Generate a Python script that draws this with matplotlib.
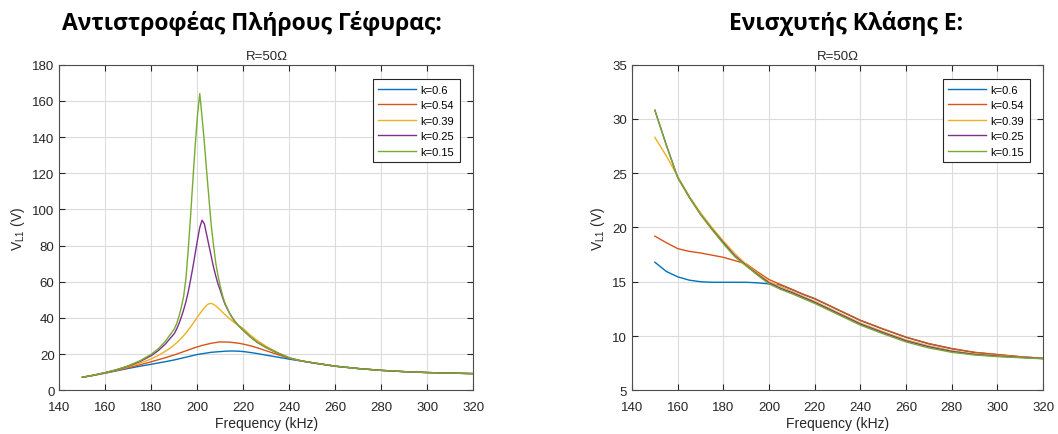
import matplotlib
matplotlib.use("Agg")
import matplotlib.pyplot as plt

# left panel: full bridge inverter
freq_inv = [150, 155, 160, 165, 170, 175, 180, 183, 186, 188,
            190, 191, 192, 193, 194, 195, 196, 197, 198, 199, 200, 201, 202, 203, 204, 205,
            206, 207, 208, 209, 210, 211, 212,
            214, 216, 218, 220, 223, 226, 230, 235, 240, 245, 250,
            260, 270, 280, 290, 300, 310, 320]
inv_k060 = [7.2, 8.3, 9.5, 10.8, 12.1, 13.3, 14.4, 15.1, 15.8, 16.3,
            16.8, 17.1, 17.4, 17.7, 18.0, 18.3, 18.6, 18.9, 19.2, 19.5, 19.8, 20.0, 20.2, 20.4, 20.6, 20.8,
            21.0, 21.1, 21.2, 21.3, 21.4, 21.5, 21.6,
            21.7, 21.7, 21.6, 21.4, 20.9, 20.3, 19.4, 18.3, 17.2, 16.2, 15.2,
            13.3, 12.0, 11.0, 10.3, 9.8, 9.5, 9.2]
inv_k054 = [7.2, 8.3, 9.6, 11.0, 12.5, 14.1, 15.8, 16.9, 18.0, 18.8,
            19.6, 20.0, 20.5, 20.9, 21.4, 21.8, 22.3, 22.7, 23.2, 23.6, 24.0, 24.4, 24.8, 25.1, 25.4, 25.7,
            26.0, 26.2, 26.4, 26.6, 26.7, 26.7, 26.7,
            26.6, 26.3, 26.0, 25.5, 24.6, 23.5, 21.8, 19.7, 17.7, 16.3, 15.2,
            13.3, 12.0, 11.0, 10.3, 9.8, 9.5, 9.2]
inv_k039 = [7.2, 8.3, 9.7, 11.2, 13.0, 15.0, 17.4, 19.3, 21.5, 23.2,
            25.2, 26.3, 27.5, 28.8, 30.2, 31.7, 33.3, 35.0, 36.8, 38.6, 40.5, 42.3, 44.0, 45.6, 47.0, 47.9,
            48.0, 47.5, 46.6, 45.5, 44.3, 43.0, 41.8,
            39.5, 37.5, 35.7, 34.0, 30.5, 27.5, 24.2, 20.8, 18.0, 16.3, 15.2,
            13.3, 12.0, 11.0, 10.3, 9.8, 9.5, 9.2]
inv_k025 = [7.2, 8.4, 9.8, 11.4, 13.4, 15.9, 19.2, 22.0, 25.5, 28.5,
            31.5, 34.0, 37.0, 40.5, 44.5, 49.0, 54.5, 61.0, 68.0, 75.5, 83.0, 90.0, 94.0, 92.0, 86.0, 80.0,
            74.0, 68.0, 63.0, 58.5, 55.0, 51.0, 47.5,
            42.5, 38.5, 35.5, 33.0, 29.5, 26.5, 23.5, 20.5, 17.8, 16.3, 15.2,
            13.3, 12.0, 11.0, 10.3, 9.8, 9.5, 9.2]
inv_k015 = [7.2, 8.4, 9.8, 11.5, 13.6, 16.3, 20.0, 23.0, 27.0, 30.5,
            34.0, 37.0, 41.0, 46.0, 52.0, 62.0, 78.0, 96.0, 116.0, 135.0, 152.0, 164.0, 151.0, 137.0, 121.0, 106.0,
            91.0, 80.0, 70.0, 63.0, 57.0, 52.0, 48.0,
            42.5, 38.5, 35.5, 33.0, 29.5, 26.5, 23.5, 20.5, 17.8, 16.3, 15.2,
            13.3, 12.0, 11.0, 10.3, 9.8, 9.5, 9.2]

# right panel: class E amplifier
freq_amp = [150, 155, 160, 165, 170, 175, 180, 185, 190, 195, 200, 205, 210, 215, 220,
            230, 240, 250, 260, 270, 280, 290, 300, 310, 320]
amp_k060 = [16.8, 15.95, 15.45, 15.15, 15.0, 14.95, 14.95, 14.95, 14.95, 14.9, 14.8, 14.7, 14.28, 13.83, 13.43,
            12.43, 11.43, 10.63, 9.88, 9.28, 8.83, 8.48, 8.28, 8.08, 7.94]
amp_k054 = [19.2, 18.6, 18.05, 17.8, 17.65, 17.45, 17.25, 16.95, 16.65, 15.9, 15.2, 14.75, 14.3, 13.85, 13.45,
            12.45, 11.45, 10.65, 9.9, 9.3, 8.85, 8.5, 8.3, 8.1, 7.95]
amp_k039 = [28.3, 26.6, 24.7, 22.9, 21.35, 20.0, 18.75, 17.6, 16.6, 15.77, 15.0, 14.55, 14.1, 13.65, 13.2,
            12.2, 11.2, 10.4, 9.65, 9.1, 8.65, 8.35, 8.2, 8.05, 7.94]
amp_k025 = [30.8, 27.6, 24.6, 22.8, 21.2, 19.85, 18.6, 17.4, 16.5, 15.67, 14.9, 14.4, 14.0, 13.55, 13.1,
            12.1, 11.1, 10.3, 9.55, 9.0, 8.58, 8.3, 8.15, 8.03, 7.92]
amp_k015 = [30.8, 27.6, 24.6, 22.8, 21.2, 19.8, 18.5, 17.3, 16.45, 15.6, 14.8, 14.3, 13.9, 13.45, 13.0,
            12.0, 11.0, 10.2, 9.45, 8.9, 8.5, 8.25, 8.1, 8.0, 7.9]

labels = ['k=0.6', 'k=0.54', 'k=0.39', 'k=0.25', 'k=0.15']
colors = ['#0072BD', '#D95319', '#EDB120', '#7E2F8E', '#77AC30']

plt.rcParams['font.family'] = ['Liberation Sans', 'DejaVu Sans']

fig = plt.figure(figsize=(10.58, 4.35), dpi=100)
ax1 = fig.add_axes([0.0562, 0.1005, 0.3913, 0.7485])
ax2 = fig.add_axes([0.5974, 0.1005, 0.3885, 0.7485])

panels = [
    (ax1, freq_inv, [inv_k060, inv_k054, inv_k039, inv_k025, inv_k015], (0, 180), range(0, 181, 20),
     'Αντιστροφέας Πλήρους Γέφυρας:', 252),
    (ax2, freq_amp, [amp_k060, amp_k054, amp_k039, amp_k025, amp_k015], (5, 35), range(5, 36, 5),
     'Ενισχυτής Κλάσης Ε:', 846),
]

for ax, f, series, ylim, yt, head, hx in panels:
    for s, lab, c in zip(series, labels, colors):
        ax.plot(f, s, color=c, lw=1.0, label=lab)
    ax.set_xlim(140, 320)
    ax.set_ylim(*ylim)
    ax.set_xticks(range(140, 321, 20))
    ax.set_yticks(list(yt))
    ax.grid(True, color='#dcdcdc', lw=0.8)
    ax.set_axisbelow(True)
    ax.tick_params(direction='in', top=True, right=True, labelsize=9.5, colors='#262626', length=4)
    ax.tick_params(axis='x', pad=8)
    for sp in ax.spines.values():
        sp.set_color('#4d4d4d')
    ax.set_xlabel('Frequency (kHz)', fontsize=10, color='#262626', labelpad=2)
    ax.set_ylabel('V$_{\\mathregular{L1}}$ (V)', fontsize=10, color='#262626', labelpad=4)
    ax.set_title('R=50Ω', fontsize=9.5, color='#262626', pad=4)
    leg = ax.legend(loc='upper right', fontsize=8, fancybox=False, framealpha=1,
                    edgecolor='#262626', handlelength=3.4, handletextpad=0.4, borderpad=0.5,
                    labelspacing=0.5, borderaxespad=0, bbox_to_anchor=(0.967, 0.956))
    leg.get_frame().set_linewidth(0.8)
    fig.text(hx / 1058, 0.945, head, ha='center', va='center', fontsize=16.5,
             fontweight='bold', family=['Open Sans', 'DejaVu Sans'])

fig.savefig('out.png', dpi=100)
